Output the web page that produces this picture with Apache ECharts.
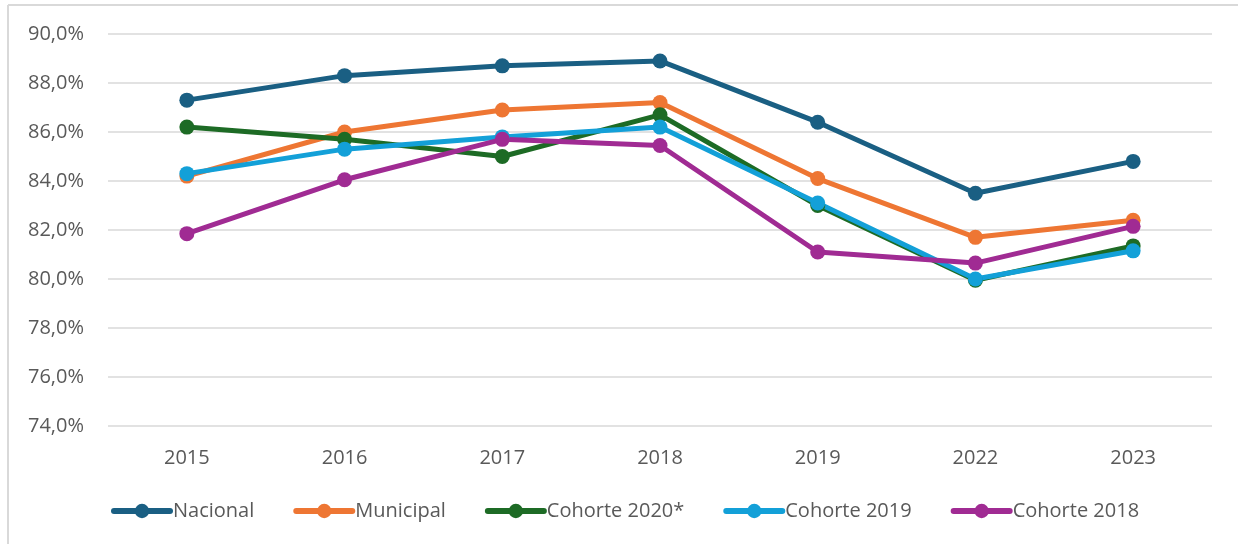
<!DOCTYPE html>
<html>
<head>
<meta charset="utf-8">
<style>
  html, body { margin: 0; padding: 0; background: #fff; }
  #chart { width: 1238px; height: 544px; }
</style>
<script src="https://cdn.jsdelivr.net/npm/echarts@6/dist/echarts.min.js"></script>
</head>
<body>
<div id="chart"></div>
<script>
const categories = ['2015', '2016', '2017', '2018', '2019', '2022', '2023'];
const nacional   = [87.3, 88.3, 88.7, 88.9, 86.4, 83.5, 84.8];
const municipal  = [84.2, 86.0, 86.9, 87.2, 84.1, 81.7, 82.4];
const cohorte2020 = [86.2, 85.7, 85.0, 86.7, 83.0, 79.95, 81.35];
const cohorte2019 = [84.3, 85.3, 85.8, 86.2, 83.1, 80.0, 81.15];
const cohorte2018 = [81.85, 84.05, 85.7, 85.45, 81.1, 80.65, 82.15];

const seriesNames = ['Nacional', 'Municipal', 'Cohorte 2020*', 'Cohorte 2019', 'Cohorte 2018'];
const seriesData = [nacional, municipal, cohorte2020, cohorte2019, cohorte2018];
const colors = ['#1A5F83', '#EE7633', '#1D6B25', '#13A0D8', '#A02B93'];

const chart = echarts.init(document.getElementById('chart'));
const font = '"Open Sans", "Noto Sans", sans-serif';

chart.setOption({
  animation: false,
  color: colors,
  textStyle: { fontFamily: font },
  grid: { left: 108, right: 26, top: 34, bottom: 118 },
  graphic: [
    { type: 'line', shape: { x1: 8, y1: 5, x2: 1238, y2: 5 }, style: { stroke: '#d9d9d9', lineWidth: 2 } },
    { type: 'line', shape: { x1: 8, y1: 5, x2: 8, y2: 544 }, style: { stroke: '#d9d9d9', lineWidth: 2 } }
  ],
  legend: {
    left: 111,
    top: 501,
    padding: 0,
    itemWidth: 56,
    itemHeight: 18,
    itemGap: 39,
    lineStyle: { width: 6, cap: 'round' },
    textStyle: { fontSize: 20, color: '#595959', fontFamily: font, padding: [0, 0, 0, -2] },
    data: seriesNames
  },
  xAxis: {
    type: 'category',
    data: categories,
    boundaryGap: true,
    axisLine: { show: false },
    axisTick: { show: false },
    axisLabel: { fontSize: 20, color: '#595959', margin: 22, fontFamily: font }
  },
  yAxis: {
    type: 'value',
    min: 74,
    max: 90,
    interval: 2,
    axisLine: { show: false },
    axisTick: { show: false },
    splitLine: { lineStyle: { color: '#d9d9d9', width: 1.5 } },
    axisLabel: {
      fontSize: 20, color: '#595959', margin: 24, fontFamily: font,
      formatter: v => v.toFixed(1).replace('.', ',') + '%'
    }
  },
  series: seriesNames.map((name, i) => ({
    name: name,
    type: 'line',
    data: seriesData[i],
    symbol: 'circle',
    symbolSize: 15,
    lineStyle: { width: 5, color: colors[i] },
    itemStyle: { color: colors[i] }
  }))
});
</script>
</body>
</html>
